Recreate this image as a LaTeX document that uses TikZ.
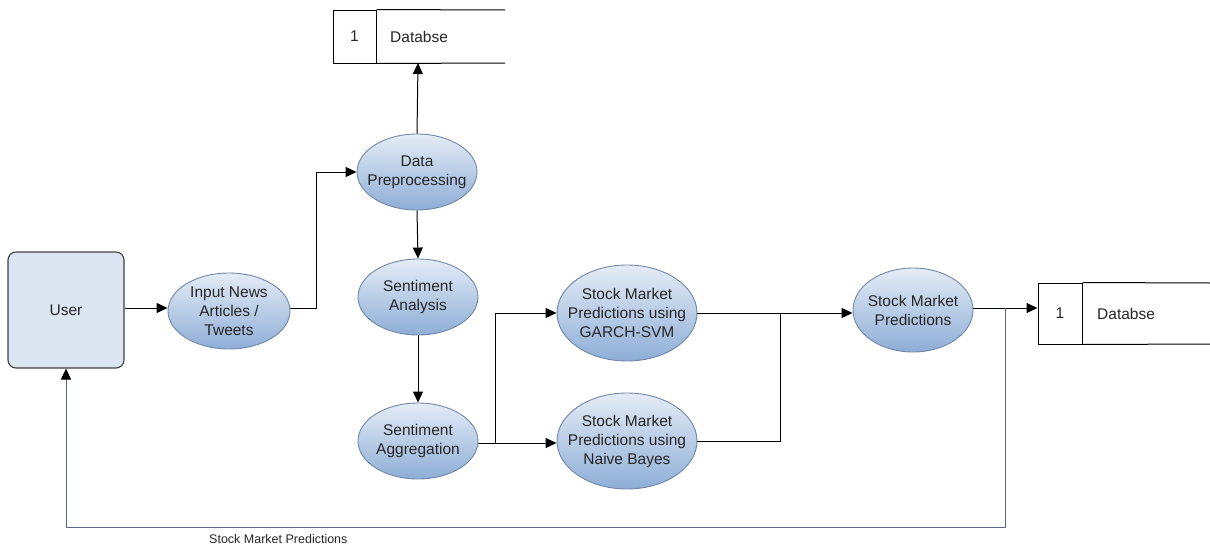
\documentclass[tikz,border=0pt]{standalone}
\usepackage{fontspec}
\setmainfont{Liberation Sans}
\usetikzlibrary{shapes.geometric,arrows.meta}
\definecolor{proctop}{HTML}{E4ECF6}
\definecolor{procbot}{HTML}{8EAED6}
\definecolor{procline}{HTML}{6F87A8}
\definecolor{userfill}{HTML}{DCE6F2}
\definecolor{txt}{HTML}{262626}
\definecolor{backline}{HTML}{56698A}
\begin{document}
\begin{tikzpicture}[x=1pt,y=-1pt,
  proc/.style={ellipse, draw=procline, line width=0.9pt, top color=proctop,
    bottom color=procbot, inner sep=-14pt, align=center, text=txt,
    font=\fontsize{15.5}{19}\selectfont},
  entity/.style={draw=black!75, line width=1.1pt, fill=userfill, rounded corners=8pt,
    minimum width=116pt, minimum height=116pt, text=txt, font=\fontsize{15.5}{19}\selectfont},
  storeid/.style={draw=black, line width=1pt, inner sep=0pt, text=txt,
    font=\fontsize{15.5}{19}\selectfont},
  storelabel/.style={anchor=west, text=txt, inner sep=0pt, font=\fontsize{15.5}{19}\selectfont},
  flow/.style={draw=black, line width=1pt, -{Triangle[length=11pt,width=10pt]}},
  wire/.style={draw=black, line width=1pt},
  backflow/.style={draw=backline, line width=1pt, -{Triangle[length=11pt,width=10pt,fill=black,color=black]}},
]
\useasboundingbox (0,0) rectangle (1210,549);

% data stores
\node[storeid, minimum width=43pt, minimum height=53pt] (db1) at (354.5,36.5) {1};
\node[storelabel] (db1t) at (390,36.5) {Databse};
\draw[line width=1pt] (db1.north east) -- (505,10) (db1.south east) -- (505,63);
\coordinate (db1in) at (418,63);

\node[storeid, minimum width=44pt, minimum height=61pt] (db2) at (1060,313.5) {1};
\node[storelabel] (db2t) at (1097,313.5) {Databse};
\draw[line width=1pt] (db2.north east) -- (1210,283) (db2.south east) -- (1210,344);

% external entity
\node[entity] (user) at (66,310) {User};

% processes
\node[proc, minimum width=122pt, minimum height=76pt] (input) at (229,311) {Input News\\Articles /\\Tweets};
\node[proc, minimum width=120pt, minimum height=76pt] (prep) at (417,172) {Data\\Preprocessing};
\node[proc, minimum width=120pt, minimum height=76pt] (senti) at (418,297) {Sentiment\\Analysis};
\node[proc, minimum width=120pt, minimum height=76pt] (aggr) at (418,441) {Sentiment\\Aggregation};
\node[proc, minimum width=140pt, minimum height=96pt] (garch) at (627,313) {Stock Market\\Predictions using\\GARCH-SVM};
\node[proc, minimum width=140pt, minimum height=96pt] (bayes) at (627,441) {Stock Market\\Predictions using\\Naive Bayes};
\node[proc, minimum width=120pt, minimum height=84pt] (pred) at (913,310) {Stock Market\\Predictions};

% junction points
\coordinate (j1) at (316,308);
\coordinate (j2) at (495,443);
\coordinate (j3) at (780,313);
\coordinate (j4) at (1005,308);
\coordinate (j5) at (1005,527);
\coordinate (j6) at (66,527);

% connectors
\draw[flow] (user.east |- 0,308) -- (input.west |- 0,308);
\draw[flow] (input.east |- 0,308) -- (j1) |- (prep.west);
\draw[flow] (prep.north) -- (db1in);
\draw[flow] (prep.south) -- (senti.north);
\draw[flow] (senti.south) -- (aggr.north);
\draw[flow] (aggr.east |- j2) -- (bayes.west |- j2);
\draw[flow] (j2) |- (garch.west);
\draw[flow] (garch.east) -- (pred.west |- j3);
\draw[wire] (bayes.east) -| (j3);
\draw[flow] (pred.east |- j4) -- (db2.west |- j4);
\draw[backline, line width=1pt] (j4) -- (j5) -- (j6);
\draw[backflow] (j6) -- (user.south);

\node[text=txt, font=\fontsize{12.5}{15}\selectfont, anchor=west, inner sep=0pt] (fbl) at (209,539) {Stock Market Predictions};
\end{tikzpicture}
\end{document}
